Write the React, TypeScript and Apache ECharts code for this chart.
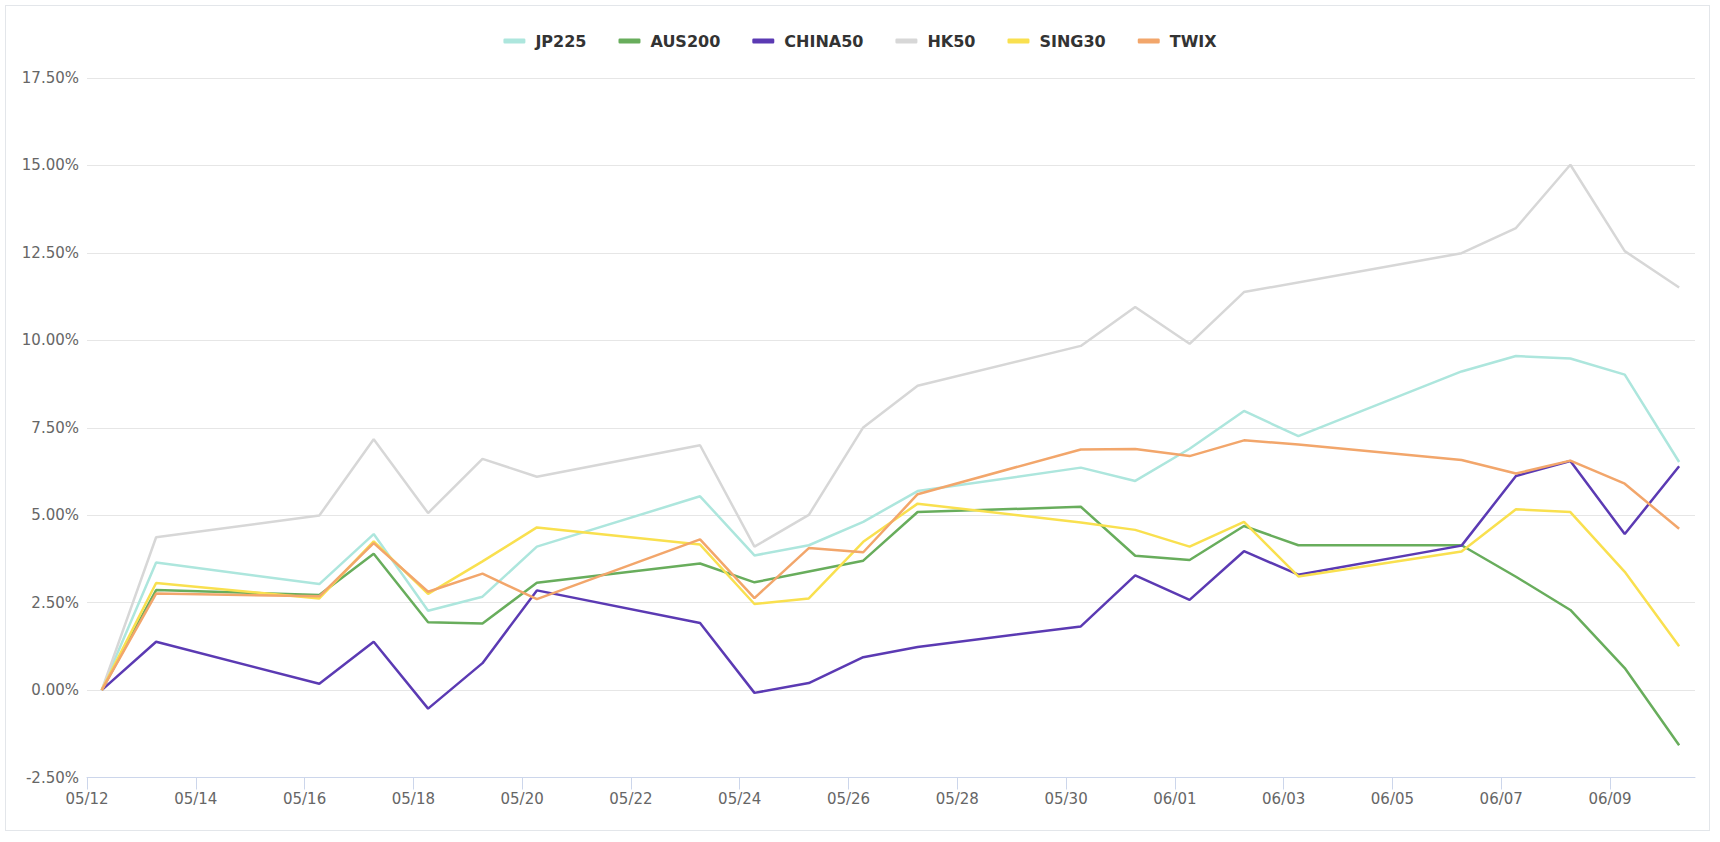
import React, { useEffect, useRef } from "react";
import * as echarts from "echarts";

const DATES = [
  "2022-05-12", "2022-05-13", "2022-05-16", "2022-05-17", "2022-05-18", "2022-05-19",
  "2022-05-20", "2022-05-23", "2022-05-24", "2022-05-25", "2022-05-26", "2022-05-27",
  "2022-05-30", "2022-05-31", "2022-06-01", "2022-06-02", "2022-06-03", "2022-06-06",
  "2022-06-07", "2022-06-08", "2022-06-09", "2022-06-10",
];

const TICK_DATES = [
  "2022-05-12", "2022-05-14", "2022-05-16", "2022-05-18", "2022-05-20", "2022-05-22",
  "2022-05-24", "2022-05-26", "2022-05-28", "2022-05-30", "2022-06-01", "2022-06-03",
  "2022-06-05", "2022-06-07", "2022-06-09",
];

// axis range and the time of day of each daily reading (UTC)
const AXIS_START = "2022-05-12T00:00:00Z";
const AXIS_END = "2022-06-10T13:30:00Z";
const READING_TIME = "T06:30:00Z";

const JP225 = [0, 3.65, 3.03, 4.46, 2.27, 2.67, 4.10, 5.54, 3.85, 4.14, 4.81, 5.69, 6.36, 5.98, 6.90, 7.98, 7.26, 9.11, 9.55, 9.48, 9.02, 6.52];
const AUS200 = [0, 2.86, 2.72, 3.90, 1.94, 1.90, 3.07, 3.62, 3.08, 3.39, 3.70, 5.09, 5.24, 3.84, 3.72, 4.69, 4.14, 4.14, 3.24, 2.29, 0.63, -1.58];
const CHINA50 = [0, 1.38, 0.18, 1.38, -0.53, 0.77, 2.85, 1.92, -0.08, 0.20, 0.94, 1.23, 1.82, 3.28, 2.58, 3.97, 3.30, 4.13, 6.12, 6.55, 4.46, 6.40];
const HK50 = [0, 4.37, 4.99, 7.17, 5.06, 6.61, 6.10, 7.00, 4.10, 5.01, 7.51, 8.70, 9.84, 10.95, 9.90, 11.38, null, 12.49, 13.21, 15.02, 12.55, 11.51];
const SING30 = [0, 3.06, 2.62, 4.25, 2.75, 3.68, 4.65, 4.16, 2.46, 2.62, 4.24, 5.33, 4.79, 4.58, 4.10, 4.81, 3.25, 3.96, 5.17, 5.09, 3.38, 1.25];
const TWIX = [0, 2.76, 2.68, 4.20, 2.81, 3.33, 2.60, 4.31, 2.63, 4.06, 3.94, 5.60, 6.88, 6.89, 6.69, 7.14, 7.02, 6.58, 6.19, 6.56, 5.90, 4.61];

const SERIES_NAMES = ["JP225", "AUS200", "CHINA50", "HK50", "SING30", "TWIX"];
const SERIES_VALUES = [JP225, AUS200, CHINA50, HK50, SING30, TWIX];
const COLORS = ["#ade6dd", "#68ad5c", "#5b3ab3", "#d7d7d7", "#f9e04f", "#f2a66b"];

const Y_MIN = -2.5;
const Y_MAX = 17.5;
const Y_STEP = 2.5;

const pad = (n: number) => (n < 10 ? "0" + n : "" + n);

export default function App() {
  const ref = useRef<HTMLDivElement>(null);

  useEffect(() => {
    if (!ref.current) return;
    const chart = echarts.init(ref.current, null, { renderer: "svg" });
    const ts = (d: string) => Date.parse(d + READING_TIME);
    const tickTs = TICK_DATES.map((d) => Date.parse(d + "T00:00:00Z"));

    chart.setOption({
      animation: false,
      color: COLORS,
      legend: {
        top: 28,
        left: "center",
        icon: "roundRect",
        itemWidth: 22,
        itemHeight: 5,
        itemGap: 32,
        textStyle: {
          fontFamily: "DejaVu Sans",
          fontSize: 16,
          fontWeight: "bold",
          color: "#333333",
          padding: [0, 0, 0, 5],
        },
        data: SERIES_NAMES,
      },
      grid: { left: 87, right: 25, top: 78, bottom: 64.5, containLabel: false },
      xAxis: {
        type: "value",
        scale: true,
        min: Date.parse(AXIS_START),
        max: Date.parse(AXIS_END),
        axisLine: { show: true, onZero: false, lineStyle: { color: "#ccd6eb", width: 1 } },
        axisTick: {
          show: true,
          length: 12,
          lineStyle: { color: "#ccd6eb" },
          customValues: tickTs,
        },
        axisLabel: {
          customValues: tickTs,
          margin: 14,
          fontFamily: "DejaVu Sans",
          fontSize: 15,
          color: "#666666",
          formatter: (v: number) => {
            const d = new Date(v);
            return pad(d.getUTCMonth() + 1) + "/" + pad(d.getUTCDate());
          },
        },
        splitLine: { show: false },
      },
      yAxis: {
        type: "value",
        min: Y_MIN,
        max: Y_MAX,
        interval: Y_STEP,
        axisLine: { show: false },
        axisTick: { show: false },
        axisLabel: {
          margin: 8,
          fontFamily: "DejaVu Sans",
          fontSize: 15,
          color: "#666666",
          formatter: (v: number) => v.toFixed(2) + "%",
        },
        splitLine: { show: true, lineStyle: { color: "#e6e6e6", width: 1 } },
      },
      series: SERIES_NAMES.map((name, i) => ({
        name,
        type: "line",
        showSymbol: false,
        symbol: "none",
        connectNulls: true,
        lineStyle: { width: 2.5, color: COLORS[i] },
        itemStyle: { color: COLORS[i] },
        emphasis: { disabled: true },
        data: DATES.map((d, j) => [ts(d), SERIES_VALUES[i][j]]).filter((p) => p[1] !== null),
      })),
    });

    return () => chart.dispose();
  }, []);

  return (
    <div style={{ position: "absolute", left: 0, top: 0, width: 1720, height: 842, background: "#ffffff" }}>
      <div
        style={{
          position: "absolute",
          left: 5,
          top: 5,
          width: 1705,
          height: 826,
          border: "1px solid #e3e6ea",
          boxSizing: "border-box",
        }}
      />
      <div ref={ref} style={{ position: "absolute", left: 0, top: 0, width: 1720, height: 842 }} />
    </div>
  );
}
